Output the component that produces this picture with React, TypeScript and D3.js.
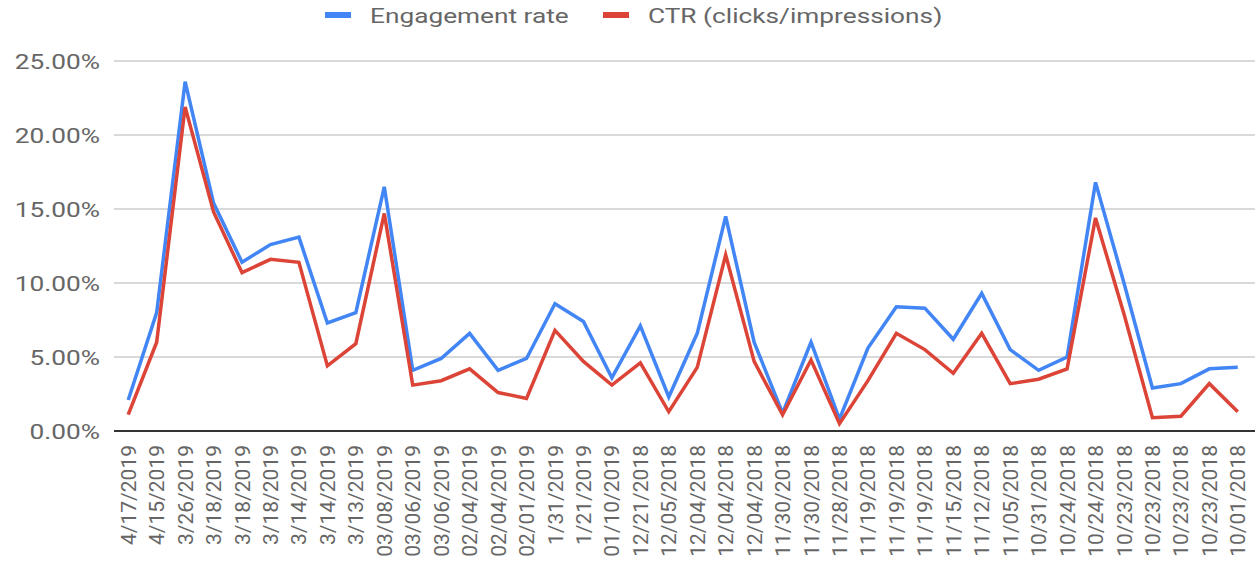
import * as d3 from 'd3';
import { useEffect, useRef } from 'react';

const dates = [
  '4/17/2019', '4/15/2019', '3/26/2019', '3/18/2019', '3/18/2019', '3/18/2019', '3/14/2019', '3/14/2019',
  '3/13/2019', '03/08/2019', '03/06/2019', '03/06/2019', '02/04/2019', '02/04/2019', '02/01/2019', '1/31/2019',
  '1/21/2019', '01/10/2019', '12/21/2018', '12/05/2018', '12/04/2018', '12/04/2018', '12/04/2018', '11/30/2018',
  '11/30/2018', '11/28/2018', '11/19/2018', '11/19/2018', '11/19/2018', '11/15/2018', '11/12/2018', '11/05/2018',
  '10/31/2018', '10/24/2018', '10/24/2018', '10/23/2018', '10/23/2018', '10/23/2018', '10/23/2018', '10/01/2018',
];

// percent values
const engagement = [
  2.1, 8.0, 23.6, 15.4, 11.4, 12.6, 13.1, 7.3, 8.0, 16.5,
  4.1, 4.9, 6.6, 4.1, 4.9, 8.6, 7.4, 3.6, 7.1, 2.3,
  6.6, 14.5, 6.0, 1.2, 6.0, 0.8, 5.6, 8.4, 8.3, 6.2,
  9.3, 5.5, 4.1, 5.0, 16.8, 10.0, 2.9, 3.2, 4.2, 4.3,
];
const ctr = [
  1.1, 6.0, 21.9, 14.8, 10.7, 11.6, 11.4, 4.4, 5.9, 14.7,
  3.1, 3.4, 4.2, 2.6, 2.2, 6.8, 4.7, 3.1, 4.6, 1.3,
  4.3, 11.9, 4.7, 1.1, 4.8, 0.5, 3.4, 6.6, 5.5, 3.9,
  6.6, 3.2, 3.5, 4.2, 14.4, 7.9, 0.9, 1.0, 3.2, 1.3,
];
const yTicks = [0, 5, 10, 15, 20, 25];

const series = [
  { name: 'Engagement rate', color: '#4285f4', values: engagement },
  { name: 'CTR (clicks/impressions)', color: '#db4437', values: ctr },
];

const App = () => {
  const svgRef = useRef(null);

  useEffect(() => {
    const width = 1259;
    const height = 563;
    const svg = d3.select(svgRef.current)
      .attr('width', width)
      .attr('height', height)
      .style('font-family', 'Roboto, sans-serif');
    svg.selectAll('*').remove();

    const x = d3.scalePoint().domain(d3.range(dates.length)).range([114, 1252]).padding(0.5);
    const y = d3.scaleLinear().domain([0, 25]).range([431, 61]);
    const textColor = '#666';

    // gridlines
    svg.append('g').selectAll('line')
      .data(yTicks.filter((t) => t > 0))
      .enter()
      .append('line')
      .attr('x1', 114).attr('x2', 1255)
      .attr('y1', (d) => y(d)).attr('y2', (d) => y(d))
      .attr('stroke', '#cccccc')
      .attr('stroke-width', 1.5);

    // y labels (stretched horizontally like the original)
    svg.append('g').selectAll('text')
      .data(yTicks)
      .enter()
      .append('text')
      .attr('transform', (d) => `translate(100,${y(d)}) scale(1.25,1)`)
      .attr('dy', '0.36em')
      .attr('text-anchor', 'end')
      .attr('font-size', 21)
      .attr('fill', textColor)
      .text((d) => d3.format('.2f')(d) + '%');

    // lines
    const line = d3.line().x((d, i) => x(i)).y((d) => y(d));
    series.forEach((s) => {
      svg.append('path')
        .datum(s.values)
        .attr('d', line)
        .attr('fill', 'none')
        .attr('stroke', s.color)
        .attr('stroke-width', 3.5)
        .attr('stroke-linejoin', 'miter');
    });

    // baseline
    svg.append('line')
      .attr('x1', 114).attr('x2', 1255)
      .attr('y1', y(0)).attr('y2', y(0))
      .attr('stroke', '#333')
      .attr('stroke-width', 2);

    // x labels
    svg.append('g').selectAll('text')
      .data(dates)
      .enter()
      .append('text')
      .attr('transform', (d, i) => `translate(${x(i)},445) rotate(-90)`)
      .attr('dy', '0.36em')
      .attr('text-anchor', 'end')
      .attr('font-size', 21)
      .attr('fill', textColor)
      .text((d) => d);

    // legend
    const legendX = [325, 603];
    const legend = svg.append('g').selectAll('g')
      .data(series)
      .enter()
      .append('g')
      .attr('transform', (d, i) => `translate(${legendX[i]},0)`);
    legend.append('rect')
      .attr('x', 0).attr('y', 12)
      .attr('width', 26).attr('height', 6)
      .attr('fill', (d) => d.color);
    legend.append('text')
      .attr('transform', 'translate(45,23) scale(1.25,1)')
      .attr('font-size', 21)
      .attr('fill', textColor)
      .text((d) => d.name);
  }, []);

  return <svg ref={svgRef} style={{ display: 'block', position: 'absolute', left: 0, top: 0 }} />;
};

export default App;
